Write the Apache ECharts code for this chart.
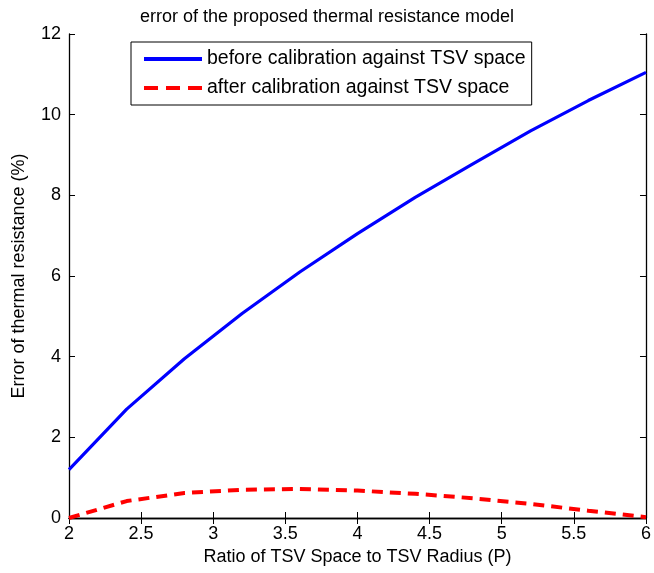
<!DOCTYPE html>
<html><head><meta charset="utf-8">
<script src="https://cdn.jsdelivr.net/npm/echarts@6/dist/echarts.min.js"></script>
<style>html,body{margin:0;padding:0;background:#fff}#c{width:654px;height:573px}</style>
</head><body><div id="c"></div>
<script>
const titleText = 'error of the proposed thermal resistance model';
const xLabel = 'Ratio of TSV Space to TSV Radius (P)';
const yLabel = 'Error of thermal resistance (%)';
const seriesNames = ['before calibration against TSV space', 'after calibration against TSV space'];
const pValues = [2.0, 2.4, 2.8, 3.2, 3.6, 4.0, 4.4, 4.8, 5.2, 5.6, 6.0];
const beforeErr = [1.2, 2.7, 3.95, 5.07, 6.1, 7.05, 7.95, 8.78, 9.6, 10.35, 11.05];
const afterErr = [0.0, 0.42, 0.62, 0.7, 0.72, 0.68, 0.6, 0.49, 0.35, 0.18, 0.02];
const xTicks = [2, 2.5, 3, 3.5, 4, 4.5, 5, 5.5, 6];
const yTicks = [0, 2, 4, 6, 8, 10, 12];

const font = 'Liberation Sans, Arial, sans-serif';
const chart = echarts.init(document.getElementById('c'), null, {renderer: 'canvas'});
const axisLine = {show: true, lineStyle: {color: '#000', width: 1.3}};
const tick = {show: true, inside: true, length: 6, lineStyle: {color: '#000', width: 1}};
chart.setOption({
  animation: false,
  backgroundColor: '#fff',
  title: {text: titleText, left: 'center', top: 3,
    textStyle: {fontFamily: font, fontSize: 18, fontWeight: 'normal', color: '#000'}},
  grid: {left: 69, right: 3, top: 34, bottom: 55, containLabel: false},
  legend: {
    left: 131, top: 42, orient: 'vertical', itemWidth: 58, itemHeight: 12, itemGap: 9,
    padding: [7, 6, 7, 11], borderColor: '#000', borderWidth: 1, backgroundColor: '#fff',
    itemStyle: {opacity: 0},
    textStyle: {fontFamily: font, fontSize: 19.5, color: '#000'},
    data: [
      {name: seriesNames[0], lineStyle: {width: 4, color: '#0000ff', type: 'solid'}},
      {name: seriesNames[1], lineStyle: {width: 4, color: '#ff0000', type: [14, 8]}}
    ]
  },
  xAxis: [
    {type: 'value', min: xTicks[0], max: xTicks[xTicks.length-1], interval: 0.5,
     name: xLabel, nameLocation: 'middle', nameGap: 30,
     nameTextStyle: {fontFamily: font, fontSize: 18, color: '#000'},
     axisLine: axisLine, axisTick: tick, splitLine: {show: false},
     axisLabel: {fontFamily: font, fontSize: 18, color: '#000', margin: 7,
       formatter: v => String(v)}},
    {type: 'value', position: 'top', min: xTicks[0], max: xTicks[xTicks.length-1], interval: 0.5,
     axisLine: axisLine, axisTick: tick, splitLine: {show: false}, axisLabel: {show: false}}
  ],
  yAxis: [
    {type: 'value', min: yTicks[0], max: yTicks[yTicks.length-1], interval: 2,
     name: yLabel, nameLocation: 'middle', nameGap: 41,
     nameTextStyle: {fontFamily: font, fontSize: 18, color: '#000'},
     axisLine: axisLine, axisTick: tick, splitLine: {show: false},
     axisLabel: {fontFamily: font, fontSize: 18, color: '#000', margin: 8}},
    {type: 'value', position: 'right', min: yTicks[0], max: yTicks[yTicks.length-1], interval: 2,
     axisLine: axisLine, axisTick: tick, splitLine: {show: false}, axisLabel: {show: false}}
  ],
  series: [
    {name: seriesNames[0], type: 'line', showSymbol: false, symbol: 'none',
     data: pValues.map((p, i) => [p, beforeErr[i]]),
     lineStyle: {color: '#0000ff', width: 3.2}, itemStyle: {color: '#0000ff'}},
    {name: seriesNames[1], type: 'line', showSymbol: false, symbol: 'none',
     data: pValues.map((p, i) => [p, afterErr[i]]),
     lineStyle: {color: '#ff0000', width: 4, type: [11, 7]}, itemStyle: {color: '#ff0000'}}
  ]
});
</script></body></html>
